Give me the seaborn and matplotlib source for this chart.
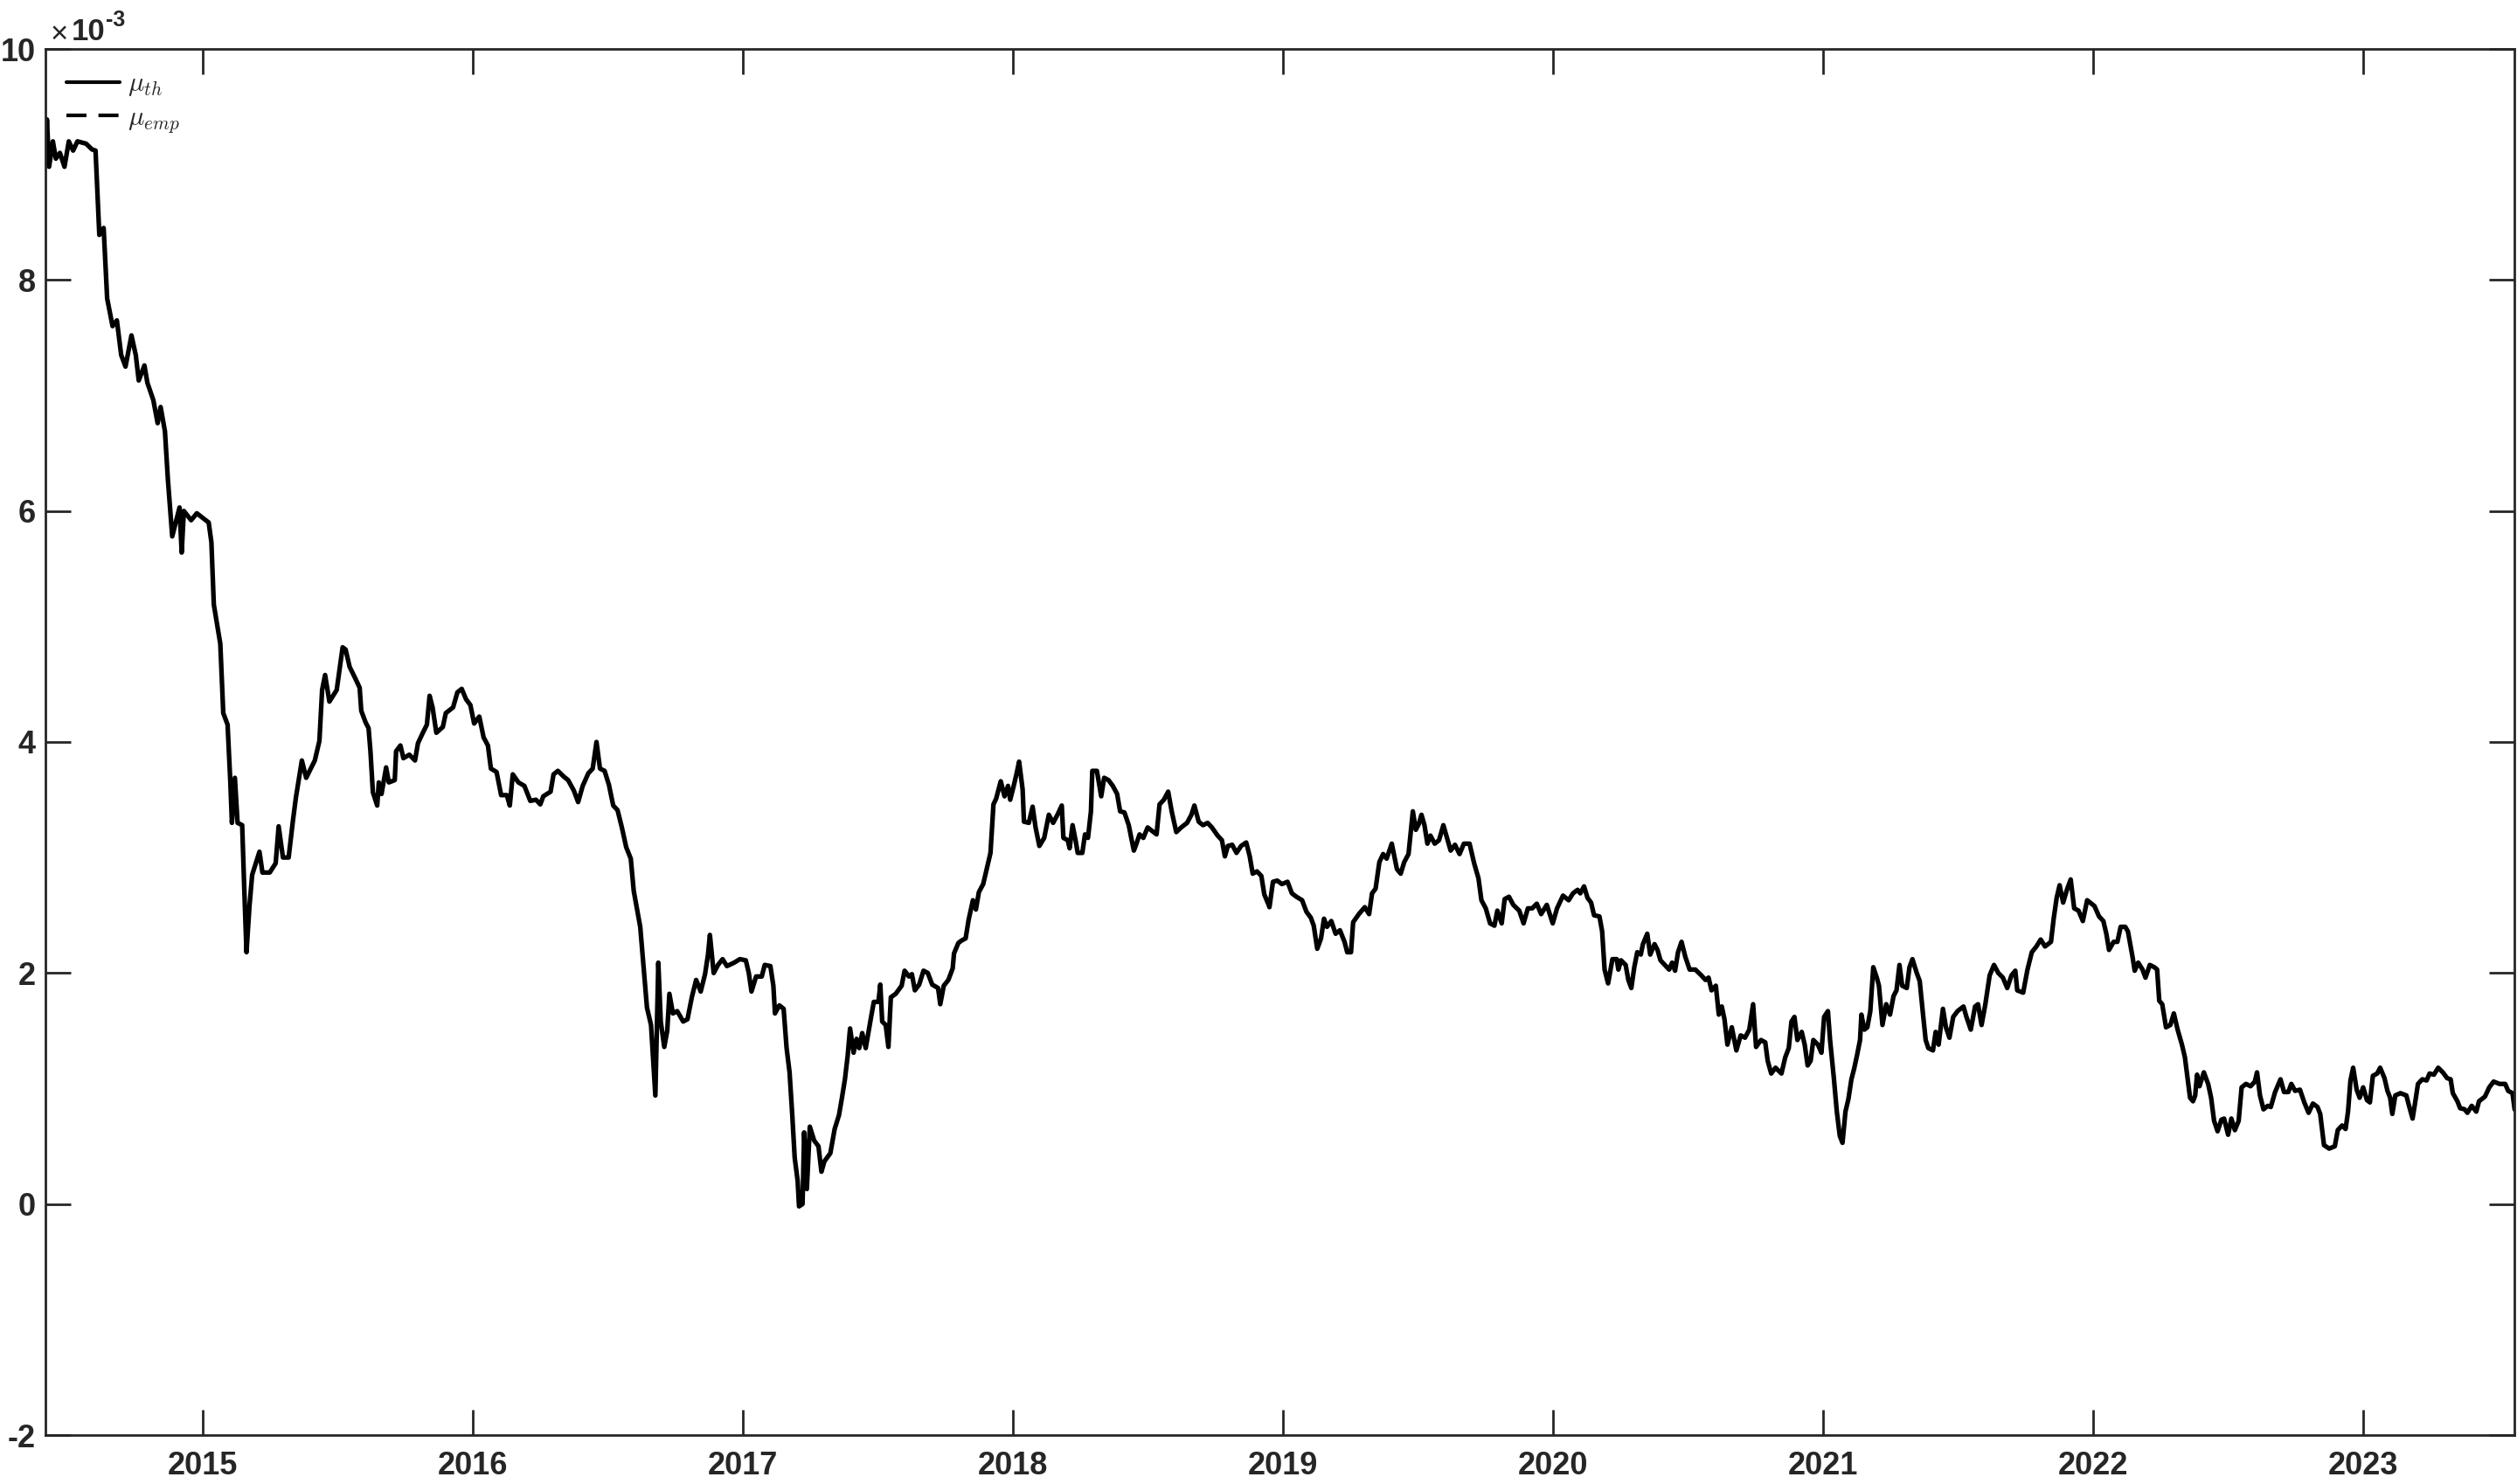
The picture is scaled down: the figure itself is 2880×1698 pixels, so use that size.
import numpy as np
import pandas as pd
import matplotlib
matplotlib.use("Agg")
import matplotlib.pyplot as plt
from matplotlib.lines import Line2D
import seaborn as sns

# ------------------------------------------------------------
# Data: decimal year -> mu (in units of 1e-3)
# ------------------------------------------------------------
t_2014 = [2014.418, 2014.423, 2014.431, 2014.445, 2014.456, 2014.471, 2014.488, 2014.504, 2014.52, 2014.536,
          2014.568, 2014.59, 2014.603, 2014.617, 2014.633, 2014.646, 2014.666, 2014.682, 2014.698, 2014.714,
          2014.736, 2014.752, 2014.763, 2014.784, 2014.795, 2014.817, 2014.833, 2014.844, 2014.86, 2014.871,
          2014.887, 2014.914, 2014.922, 2014.93, 2014.957, 2014.978, 2015.022, 2015.032, 2015.041, 2015.065,
          2015.076, 2015.092, 2015.102, 2015.108, 2015.119, 2015.129, 2015.146, 2015.153, 2015.162, 2015.173,
          2015.183, 2015.21, 2015.221, 2015.248, 2015.27, 2015.281, 2015.297, 2015.318, 2015.334, 2015.345,
          2015.367, 2015.383, 2015.415, 2015.432, 2015.442, 2015.453, 2015.469, 2015.496, 2015.518, 2015.529]
mu_2014 = [9.0, 9.39, 8.98, 9.2, 9.05, 9.1, 8.98, 9.2, 9.12, 9.2,
           9.18, 9.13, 9.12, 8.39, 8.45, 7.84, 7.6, 7.65, 7.35, 7.25,
           7.52, 7.35, 7.13, 7.26, 7.11, 6.96, 6.76, 6.9, 6.69, 6.27,
           5.78, 6.03, 5.64, 6.0, 5.92, 5.98, 5.9, 5.73, 5.19, 4.85,
           4.25, 4.15, 3.66, 3.3, 3.69, 3.3, 3.28, 2.78, 2.18, 2.58,
           2.85, 3.05, 2.87, 2.87, 2.95, 3.27, 3.0, 3.0, 3.32, 3.52,
           3.84, 3.69, 3.84, 4.01, 4.45, 4.58, 4.35, 4.45, 4.82, 4.8]

t_2015 = [2015.544, 2015.565, 2015.581, 2015.587, 2015.603, 2015.614, 2015.621, 2015.63, 2015.646, 2015.652,
          2015.662, 2015.679, 2015.689, 2015.711, 2015.716, 2015.732, 2015.743, 2015.765, 2015.786, 2015.797,
          2015.813, 2015.830, 2015.84, 2015.851, 2015.865, 2015.889, 2015.900, 2015.927, 2015.943, 2015.959,
          2015.975, 2015.991, 2016.005, 2016.024, 2016.04, 2016.056, 2016.067, 2016.088, 2016.105, 2016.126,
          2016.137, 2016.148, 2016.169, 2016.191, 2016.213, 2016.234, 2016.25, 2016.261, 2016.288, 2016.299,
          2016.315, 2016.337, 2016.353, 2016.374, 2016.39, 2016.407, 2016.428, 2016.444, 2016.458, 2016.471,
          2016.488, 2016.504, 2016.52, 2016.536, 2016.552, 2016.568, 2016.585, 2016.596, 2016.62, 2016.645,
          2016.66, 2016.668]
mu_2015 = [4.65, 4.55, 4.47, 4.27, 4.17, 4.12, 3.92, 3.565, 3.45, 3.65,
           3.55, 3.78, 3.65, 3.67, 3.92, 3.97, 3.86, 3.89, 3.84, 3.99,
           4.07, 4.15, 4.4, 4.3, 4.08, 4.13, 4.25, 4.3, 4.43, 4.46,
           4.37, 4.32, 4.16, 4.22, 4.04, 3.97, 3.77, 3.74, 3.54, 3.54,
           3.45, 3.72, 3.65, 3.62, 3.49, 3.50, 3.46, 3.53, 3.57, 3.72,
           3.75, 3.70, 3.67, 3.58, 3.48, 3.62, 3.73, 3.77, 4.0, 3.77,
           3.75, 3.63, 3.45, 3.41, 3.26, 3.09, 2.99, 2.71, 2.4, 1.7,
           1.55, 1.25]

t_2016 = [2016.676, 2016.687, 2016.696, 2016.709, 2016.72, 2016.728, 2016.741, 2016.757, 2016.779, 2016.795,
          2016.811, 2016.827, 2016.844, 2016.86, 2016.871, 2016.878, 2016.892, 2016.908, 2016.925, 2016.941,
          2016.968, 2016.989, 2017.011, 2017.022, 2017.032, 2017.049, 2017.070, 2017.081, 2017.102, 2017.113,
          2017.119, 2017.135, 2017.151, 2017.162, 2017.173, 2017.183, 2017.192, 2017.203, 2017.208, 2017.221,
          2017.227, 2017.237, 2017.248, 2017.264, 2017.280, 2017.291, 2017.302, 2017.324, 2017.340, 2017.356,
          2017.367, 2017.378, 2017.388, 2017.397, 2017.410, 2017.421, 2017.431, 2017.442, 2017.455, 2017.475,
          2017.485, 2017.502, 2017.509, 2017.516, 2017.529, 2017.539, 2017.548, 2017.566, 2017.588, 2017.599,
          2017.615, 2017.626, 2017.637, 2017.653, 2017.669, 2017.685, 2017.701, 2017.723, 2017.731, 2017.744,
          2017.761, 2017.777, 2017.782, 2017.798]
mu_2016 = [0.94, 2.09, 1.58, 1.36, 1.50, 1.82, 1.65, 1.67, 1.58, 1.60,
           1.79, 1.94, 1.84, 1.99, 2.16, 2.33, 2.0, 2.07, 2.12, 2.06,
           2.09, 2.12, 2.11, 2.0, 1.84, 1.97, 1.97, 2.07, 2.06, 1.89,
           1.65, 1.72, 1.69, 1.35, 1.14, 0.77, 0.40, 0.20, -0.02, 0.0,
           0.62, 0.13, 0.67, 0.55, 0.50, 0.28, 0.37, 0.44, 0.65, 0.77,
           0.92, 1.08, 1.28, 1.52, 1.31, 1.43, 1.35, 1.48, 1.35, 1.62,
           1.75, 1.75, 1.90, 1.58, 1.55, 1.36, 1.79, 1.82, 1.89, 2.02,
           1.97, 1.99, 1.85, 1.90, 2.02, 2.0, 1.90, 1.87, 1.73, 1.89,
           1.94, 2.04, 2.17, 2.26]

t_2017 = [2017.809, 2017.825, 2017.836, 2017.852, 2017.863, 2017.874, 2017.89, 2017.906, 2017.917, 2017.928,
          2017.938, 2017.955, 2017.969, 2017.982, 2017.990, 2018.003, 2018.014, 2018.023, 2018.036, 2018.041,
          2018.059, 2018.073, 2018.084, 2018.098, 2018.116, 2018.133, 2018.149, 2018.165, 2018.181, 2018.187,
          2018.203, 2018.210, 2018.221, 2018.232, 2018.24, 2018.257, 2018.267, 2018.278, 2018.289, 2018.294,
          2018.311, 2018.327, 2018.338, 2018.354, 2018.37, 2018.386, 2018.397, 2018.413, 2018.429, 2018.44,
          2018.448, 2018.456, 2018.469, 2018.483, 2018.499, 2018.521, 2018.532, 2018.543, 2018.559, 2018.575,
          2018.588, 2018.605, 2018.623, 2018.645, 2018.661, 2018.672, 2018.688, 2018.704, 2018.721, 2018.737,
          2018.758, 2018.774, 2018.785, 2018.796, 2018.812, 2018.828, 2018.845, 2018.864, 2018.877, 2018.888,
          2018.904, 2018.92, 2018.931, 2018.947]
mu_2017 = [2.28, 2.30, 2.46, 2.63, 2.55, 2.70, 2.77, 2.93, 3.04, 3.46,
           3.51, 3.66, 3.53, 3.62, 3.50, 3.62, 3.73, 3.83, 3.59, 3.31,
           3.30, 3.44, 3.26, 3.10, 3.17, 3.37, 3.30, 3.37, 3.45, 3.17,
           3.15, 3.08, 3.28, 3.15, 3.04, 3.04, 3.20, 3.17, 3.40, 3.75,
           3.75, 3.53, 3.69, 3.67, 3.62, 3.55, 3.40, 3.39, 3.28, 3.15,
           3.06, 3.11, 3.20, 3.17, 3.26, 3.22, 3.20, 3.46, 3.50, 3.57,
           3.40, 3.22, 3.26, 3.30, 3.37, 3.45, 3.31, 3.28, 3.30, 3.26,
           3.19, 3.15, 3.01, 3.10, 3.11, 3.04, 3.10, 3.13, 3.01, 2.86,
           2.88, 2.84, 2.68, 2.59]

t_2019 = [2018.950, 2018.963, 2018.979, 2018.996, 2019.017, 2019.033, 2019.05, 2019.071, 2019.087, 2019.103,
          2019.114, 2019.127, 2019.141, 2019.152, 2019.163, 2019.179, 2019.195, 2019.211, 2019.228, 2019.238,
          2019.252, 2019.26, 2019.281, 2019.303, 2019.319, 2019.33, 2019.343, 2019.357, 2019.371, 2019.384,
          2019.403, 2019.422, 2019.436, 2019.449, 2019.465, 2019.481, 2019.492, 2019.503, 2019.513, 2019.524,
          2019.535, 2019.546, 2019.562, 2019.578, 2019.594, 2019.61, 2019.621, 2019.637, 2019.654, 2019.67,
          2019.691, 2019.708, 2019.724, 2019.735, 2019.751, 2019.767, 2019.783, 2019.794, 2019.810, 2019.821,
          2019.837, 2019.853, 2019.875, 2019.891, 2019.907, 2019.923, 2019.94, 2019.956, 2019.977, 2019.999,
          2020.015, 2020.037, 2020.058]
mu_2019 = [2.57, 2.79, 2.80, 2.77, 2.79, 2.69, 2.66, 2.63, 2.53, 2.48,
           2.41, 2.21, 2.30, 2.47, 2.40, 2.45, 2.34, 2.37, 2.27, 2.18,
           2.18, 2.44, 2.51, 2.57, 2.51, 2.69, 2.73, 2.96, 3.03, 2.99,
           3.12, 2.90, 2.86, 2.96, 3.03, 3.40, 3.24, 3.29, 3.37, 3.28,
           3.12, 3.19, 3.12, 3.15, 3.28, 3.15, 3.06, 3.11, 3.03, 3.12,
           3.12, 2.95, 2.82, 2.63, 2.56, 2.43, 2.41, 2.54, 2.43, 2.64,
           2.66, 2.59, 2.54, 2.43, 2.56, 2.56, 2.60, 2.51, 2.59, 2.43,
           2.56, 2.67, 2.63]

t_2020 = [2020.074, 2020.091, 2020.101, 2020.115, 2020.128, 2020.141, 2020.152, 2020.172, 2020.182, 2020.191,
          2020.204, 2020.22, 2020.236, 2020.242, 2020.252, 2020.269, 2020.279, 2020.290, 2020.301, 2020.312,
          2020.325, 2020.333, 2020.349, 2020.36, 2020.376, 2020.387, 2020.398, 2020.414, 2020.43, 2020.441,
          2020.452, 2020.463, 2020.476, 2020.49, 2020.506, 2020.527, 2020.549, 2020.565, 2020.576, 2020.587,
          2020.603, 2020.614, 2020.625, 2020.635, 2020.646, 2020.662, 2020.679, 2020.695, 2020.711, 2020.727,
          2020.741, 2020.752, 2020.770, 2020.786, 2020.795, 2020.808, 2020.824, 2020.846, 2020.86, 2020.873,
          2020.883, 2020.894, 2020.905, 2020.921, 2020.932, 2020.943, 2020.954, 2020.964, 2020.981, 2020.994,
          2021.004, 2021.018, 2021.026, 2021.04, 2021.051, 2021.062, 2021.072, 2021.083, 2021.094, 2021.105,
          2021.115, 2021.126, 2021.137, 2021.142, 2021.153, 2021.164, 2021.175, 2021.186, 2021.199]
mu_2020 = [2.69, 2.72, 2.69, 2.75, 2.65, 2.61, 2.50, 2.49, 2.36, 2.03,
           1.91, 2.12, 2.12, 2.03, 2.11, 2.07, 1.94, 1.87, 2.05, 2.18,
           2.16, 2.25, 2.34, 2.16, 2.25, 2.20, 2.11, 2.07, 2.03, 2.09,
           2.02, 2.18, 2.27, 2.14, 2.03, 2.03, 1.98, 1.94, 1.96, 1.85,
           1.89, 1.64, 1.71, 1.60, 1.38, 1.53, 1.33, 1.46, 1.44, 1.51,
           1.73, 1.36, 1.42, 1.40, 1.24, 1.13, 1.18, 1.13, 1.27, 1.35,
           1.58, 1.62, 1.42, 1.49, 1.38, 1.20, 1.24, 1.42, 1.38, 1.31,
           1.62, 1.67, 1.42, 1.09, 0.80, 0.59, 0.53, 0.80, 0.91, 1.08,
           1.17, 1.29, 1.42, 1.64, 1.51, 1.53, 1.67, 2.05, 1.96]

t_2021 = [2021.207, 2021.22, 2021.234, 2021.248, 2021.261, 2021.272, 2021.283, 2021.293, 2021.310, 2021.32,
          2021.331, 2021.347, 2021.358, 2021.369, 2021.38, 2021.39, 2021.407, 2021.417, 2021.428, 2021.444,
          2021.455, 2021.468, 2021.482, 2021.498, 2021.52, 2021.531, 2021.547, 2021.563, 2021.574, 2021.587,
          2021.601, 2021.617, 2021.633, 2021.649, 2021.666, 2021.682, 2021.698, 2021.712, 2021.719, 2021.741,
          2021.757, 2021.773, 2021.790, 2021.806, 2021.822, 2021.844, 2021.854, 2021.865, 2021.876, 2021.889,
          2021.903, 2021.917, 2021.93, 2021.946, 2021.962, 2021.978, 2021.989, 2022.005, 2022.022, 2022.038,
          2022.049, 2022.059, 2022.076, 2022.09, 2022.102, 2022.119, 2022.129, 2022.146, 2022.154, 2022.167,
          2022.183, 2022.194, 2022.21, 2022.227, 2022.237, 2022.245, 2022.256, 2022.27, 2022.286, 2022.299,
          2022.313, 2022.329]
mu_2021 = [1.89, 1.55, 1.73, 1.64, 1.80, 1.85, 2.07, 1.89, 1.87, 2.05,
           2.12, 2.00, 1.93, 1.67, 1.42, 1.35, 1.33, 1.49, 1.38, 1.69,
           1.53, 1.44, 1.62, 1.67, 1.71, 1.62, 1.51, 1.71, 1.73, 1.55,
           1.73, 1.98, 2.07, 2.00, 1.96, 1.87, 1.98, 2.02, 1.85, 1.83,
           2.03, 2.18, 2.23, 2.29, 2.23, 2.27, 2.47, 2.65, 2.76, 2.61,
           2.72, 2.81, 2.56, 2.54, 2.45, 2.63, 2.61, 2.58, 2.49, 2.45,
           2.34, 2.20, 2.27, 2.27, 2.40, 2.40, 2.36, 2.14, 2.02, 2.09,
           2.03, 1.96, 2.07, 2.05, 2.03, 1.76, 1.73, 1.53, 1.55, 1.65,
           1.51, 1.38]

t_2022 = [2022.34, 2022.351, 2022.359, 2022.37, 2022.378, 2022.385, 2022.394, 2022.41, 2022.426, 2022.437,
          2022.448, 2022.461, 2022.475, 2022.485, 2022.5, 2022.512, 2022.525, 2022.539, 2022.55, 2022.566,
          2022.583, 2022.599, 2022.607, 2022.618, 2022.631, 2022.647, 2022.658, 2022.674, 2022.694, 2022.707,
          2022.723, 2022.734, 2022.748, 2022.766, 2022.782, 2022.798, 2022.814, 2022.831, 2022.841, 2022.855,
          2022.874, 2022.895, 2022.906, 2022.922, 2022.935, 2022.944, 2022.953, 2022.963, 2022.976, 2022.987,
          2023.0, 2023.014, 2023.025, 2023.036, 2023.052, 2023.063, 2023.079, 2023.09, 2023.1, 2023.108,
          2023.119, 2023.138, 2023.16, 2023.17, 2023.183, 2023.192, 2023.203, 2023.219, 2023.235, 2023.246,
          2023.262, 2023.278, 2023.295, 2023.311, 2023.324, 2023.332, 2023.349, 2023.359, 2023.376, 2023.386,
          2023.402, 2023.419, 2023.429, 2023.451, 2023.467, 2023.483, 2023.505, 2023.526, 2023.537, 2023.553,
          2023.561, 2023.567]
mu_2022 = [1.27, 1.07, 0.92, 0.89, 0.94, 1.12, 1.02, 1.14, 1.04, 0.92,
           0.72, 0.63, 0.73, 0.74, 0.60, 0.74, 0.64, 0.72, 1.01, 1.04,
           1.02, 1.06, 1.14, 0.94, 0.82, 0.85, 0.84, 0.97, 1.08, 0.97,
           0.97, 1.04, 0.98, 0.99, 0.88, 0.79, 0.87, 0.84, 0.78, 0.51,
           0.48, 0.50, 0.64, 0.68, 0.65, 0.80, 1.07, 1.18, 0.99, 0.92,
           1.01, 0.90, 0.88, 1.11, 1.13, 1.18, 1.09, 0.98, 0.92, 0.78,
           0.94, 0.96, 0.94, 0.85, 0.74, 0.87, 1.04, 1.08, 1.07, 1.13,
           1.12, 1.18, 1.14, 1.09, 1.08, 0.96, 0.89, 0.83, 0.82, 0.79,
           0.85, 0.80, 0.89, 0.93, 1.01, 1.06, 1.04, 1.04, 0.98, 0.96,
           0.82, 0.80]

year_ticks = [2015, 2016, 2017, 2018, 2019, 2020, 2021, 2022, 2023]
y_ticks = [-2, 0, 2, 4, 6, 8, 10]
legend_labels = [r"$\mu_{th}$", r"$\mu_{emp}$"]

segments = [(t_2014, mu_2014), (t_2015, mu_2015), (t_2016, mu_2016), (t_2017, mu_2017),
            (t_2019, mu_2019), (t_2020, mu_2020), (t_2021, mu_2021), (t_2022, mu_2022)]
for tt, mm in segments:
    assert len(tt) == len(mm), (tt[0], len(tt), len(mm))

df = pd.DataFrame({
    "t": np.concatenate([s[0] for s in segments]),
    "mu": np.concatenate([s[1] for s in segments]),
})

# ------------------------------------------------------------
# Plot
# ------------------------------------------------------------
sns.set_style("ticks")
plt.rcParams["font.family"] = ["Liberation Sans", "DejaVu Sans"]
plt.rcParams["mathtext.fontset"] = "cm"
plt.rcParams["axes.unicode_minus"] = False

ink = "#262626"
fig = plt.figure(figsize=(14.4, 8.49), dpi=200)
ax = fig.add_axes([52 / 2880, 1 - 1642 / 1698, 2825 / 2880, 1586 / 1698])

sns.lineplot(data=df, x="t", y="mu", ax=ax, color="black", linewidth=1.9,
             estimator=None, sort=False, legend=False)

ax.set_xlim(2014.4175, 2023.56)
ax.set_ylim(-2, 10)
ax.set_xticks(year_ticks)
ax.set_xticklabels([str(y) for y in year_ticks])
ax.set_yticks(y_ticks)
ax.set_yticklabels([str(v) for v in y_ticks])
ax.set_xlabel("")
ax.set_ylabel("")

ax.tick_params(direction="in", length=10.4, width=1.0, top=True, right=True,
               labelsize=13, color=ink, labelcolor=ink)
ax.tick_params(axis="x", pad=6.5)
ax.tick_params(axis="y", pad=4)
for lab in ax.get_xticklabels() + ax.get_yticklabels():
    lab.set_fontweight("bold")
for s in ax.spines.values():
    s.set_linewidth(1.0)
    s.set_color(ink)

# legend (no frame, like the original)
handles = [Line2D([], [], color="black", lw=1.5),
           Line2D([], [], color="black", lw=1.5, ls=(0, (5.5, 3.3)))]
ax.legend(handles, legend_labels, loc="upper left", bbox_to_anchor=(0.0085, 0.984),
          frameon=False, fontsize=11, handlelength=2.0, handletextpad=0.3,
          labelspacing=0.25, borderpad=0, borderaxespad=0)

# exponent label  x10^-3
fig.text(68 / 2880, 1 - 39 / 1698, "\u00d7", ha="center", va="center", fontsize=12.5, color=ink)
fig.text(82 / 2880, 1 - 46 / 1698, "10", ha="left", va="baseline", fontsize=12.5,
         fontweight="bold", color=ink)
fig.text(121 / 2880, 1 - 30 / 1698, "-3", ha="left", va="baseline", fontsize=9,
         fontweight="bold", color=ink)

fig.savefig("out.png", dpi=200)
print("saved out.png")
